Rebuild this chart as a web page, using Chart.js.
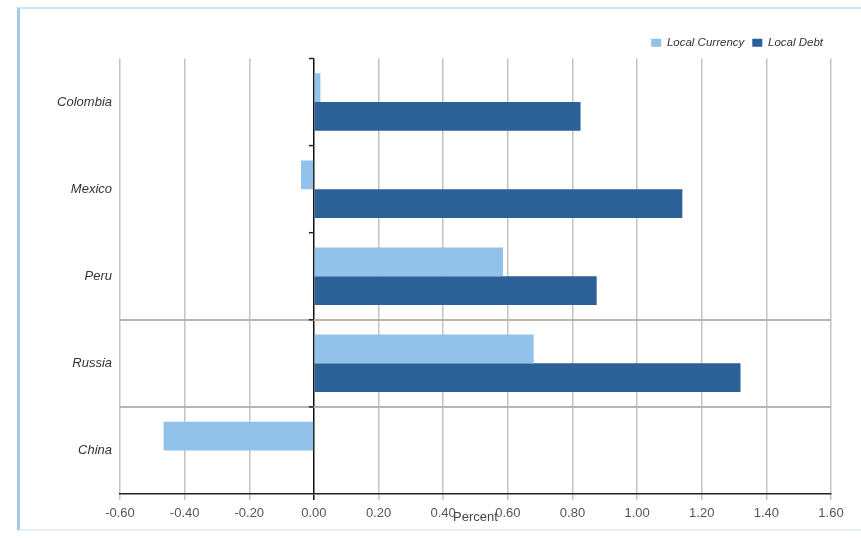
<!DOCTYPE html>
<html lang="en">
<head>
  <meta charset="UTF-8" />
  <title>Local Currency vs Local Debt</title>
  <script src="https://cdn.jsdelivr.net/npm/chart.js@4.4.1/dist/chart.umd.min.js"></script>
  <style>
    body { margin: 0; background: #fff; }
    #frame {
      position: absolute; left: 17px; top: 7px; width: 850px; height: 520px;
      border-left: 3px solid #a3cbe9; border-top: 2px solid #d3e4f2; border-bottom: 2px solid #e3eef7;
    }
    #wrap { position: absolute; left: 0; top: 0; width: 861px; height: 538px; }
  </style>
</head>
<body>
  <div id="frame"></div>
  <div id="wrap"><canvas id="chart" width="861" height="538"></canvas></div>

  <script>
    // data
    const countries = ["Colombia", "Mexico", "Peru", "Russia", "China"];
    const localCurrency = [0.02, -0.04, 0.585, 0.68, -0.465];
    const localDebt = [0.825, 1.14, 0.875, 1.32, null];

    const lightBlue = "#92c1e9";
    const darkBlue = "#2c6198";

    // little tick marks on the zero axis at the category edges
    const zeroTicks = {
      id: "zeroTicks",
      afterDatasetsDraw(chart) {
        const x = chart.scales.x, y = chart.scales.y;
        const x0 = x.getPixelForValue(0);
        const ctx = chart.ctx;
        ctx.save();
        ctx.strokeStyle = "#222";
        ctx.lineWidth = 1.5;
        for (let i = 0; i < countries.length; i++) {
          const yy = y.getPixelForValue(i) - (y.getPixelForValue(1) - y.getPixelForValue(0)) / 2;
          ctx.beginPath();
          ctx.moveTo(x0 - 5, yy);
          ctx.lineTo(x0, yy);
          ctx.stroke();
        }
        ctx.restore();
      }
    };

    const chart = new Chart(document.getElementById("chart"), {
      type: "bar",
      data: {
        labels: countries,
        datasets: [
          { label: "Local Currency", data: localCurrency, backgroundColor: lightBlue },
          { label: "Local Debt", data: localDebt, backgroundColor: darkBlue }
        ]
      },
      options: {
        indexAxis: "y",
        responsive: false,
        animation: false,
        barPercentage: 1,
        categoryPercentage: 0.66,
        layout: { padding: { left: 0, right: 30, top: 29, bottom: 0 } },
        plugins: {
          tooltip: { enabled: false },
          legend: {
            position: "top",
            align: "end",
            labels: {
              boxWidth: 10,
              boxHeight: 8,
              padding: 8,
              color: "#333",
              font: { family: "Liberation Sans", size: 11.5, style: "italic" }
            }
          }
        },
        scales: {
          x: {
            min: -0.6,
            max: 1.6,
            afterFit: (s) => { s.height = 44; },
            ticks: {
              stepSize: 0.2,
              padding: 6,
              color: "#555",
              font: { family: "Liberation Sans", size: 13 },
              callback: (v) => Number(v).toFixed(2)
            },
            grid: {
              color: (c) => (c.tick && Math.abs(c.tick.value) < 1e-9 ? "#111" : "#c4c4c4"),
              lineWidth: 1.5,
              tickLength: 6
            },
            border: { display: true, color: "#222", width: 1.5 },
            title: {
              display: true,
              text: "Percent",
              color: "#444",
              font: { family: "Liberation Sans", size: 13 },
              padding: { top: 0, bottom: 13 }
            }
          },
          y: {
            afterFit: (s) => { s.width = 120; },
            ticks: {
              padding: 8,
              color: "#333",
              font: { family: "Liberation Sans", size: 13, style: "italic" }
            },
            grid: {
              color: (c) => (c.index === 3 || c.index === 4 ? "#b5b5b5" : "rgba(0,0,0,0)"),
              lineWidth: 2,
              drawTicks: false
            },
            border: { display: false }
          }
        }
      },
      plugins: [zeroTicks]
    });
  </script>
</body>
</html>
